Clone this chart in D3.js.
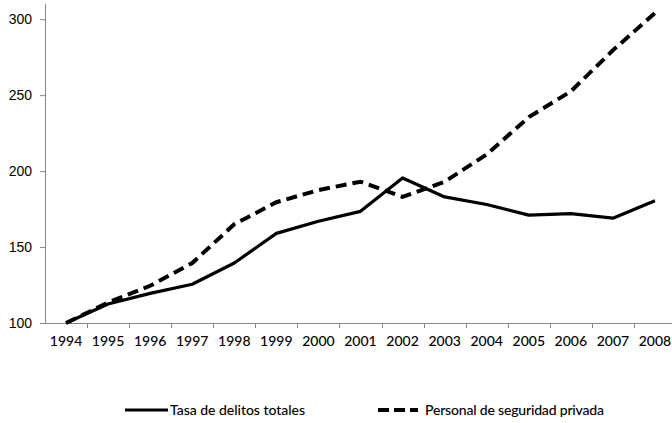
<!DOCTYPE html>
<html>
<head>
<meta charset="utf-8">
<script src="https://cdn.jsdelivr.net/npm/d3@7"></script>
<style>
  body { margin: 0; background: #fff; }
  svg { display: block; font-family: Lato, 'DejaVu Sans', sans-serif; }
</style>
</head>
<body>
<div id="chart"></div>
<script>
const years = ['1994', '1995', '1996', '1997', '1998', '1999', '2000', '2001',
  '2002', '2003', '2004', '2005', '2006', '2007', '2008'];
const delitos = [100, 112.5, 119.5, 125.5, 139.5, 159, 167, 173.5, 195.5, 183, 178, 171, 172, 169, 180.5];
const seguridad = [100, 113.5, 124.5, 139.5, 165, 179.5, 187.5, 193, 183, 193, 211, 235.5, 252.5, 279.5, 304];
const yTicks = [100, 150, 200, 250, 300];
const seriesNames = ['Tasa de delitos totales', 'Personal de seguridad privada'];

const style = {
  axis: { color: '#868686', width: 1 },
  line: { color: '#000', width: 3.2 },
  labels: { size: 14, color: '#000' },
};

const W = 672;
const H = 423;
const plot = { left: 45, right: 676, top: 4, bottom: 323 };

const svg = d3.select('#chart').append('svg')
  .attr('width', W)
  .attr('height', H);

const x = d3.scaleBand()
  .domain(years)
  .range([plot.left, plot.right]);

const y = d3.scaleLinear()
  .domain([100, 310])
  .range([plot.bottom, plot.top]);

// y axis
const yAxis = d3.axisLeft(y)
  .tickValues(yTicks)
  .tickSize(5)
  .tickPadding(8);

const gy = svg.append('g')
  .attr('transform', `translate(${plot.left},0)`)
  .call(yAxis);
gy.select('.domain').attr('stroke', style.axis.color).attr('d', `M0.5,${plot.top}V${plot.bottom}`);
gy.selectAll('line').attr('stroke', style.axis.color);
gy.selectAll('text')
  .attr('font-size', style.labels.size)
  .attr('font-weight', 500)
  .attr('fill', style.labels.color);

// x axis, ticks between categories
const gx = svg.append('g')
  .attr('transform', `translate(0,${plot.bottom})`);
gx.append('line')
  .attr('x1', plot.left - 5).attr('x2', W)
  .attr('y1', 0.5).attr('y2', 0.5)
  .attr('stroke', style.axis.color);
gx.selectAll('.tick')
  .data(years.slice(1))
  .enter().append('line')
  .attr('x1', (d) => Math.round(x(d)) + 0.5)
  .attr('x2', (d) => Math.round(x(d)) + 0.5)
  .attr('y1', 0).attr('y2', 5)
  .attr('stroke', style.axis.color);
gx.selectAll('.label')
  .data(years)
  .enter().append('text')
  .attr('x', (d) => x(d) + x.bandwidth() / 2)
  .attr('y', 23)
  .attr('text-anchor', 'middle')
  .attr('font-size', style.labels.size)
  .attr('font-weight', 500)
  .attr('fill', style.labels.color)
  .text((d) => d);

const line = d3.line()
  .x((d, i) => x(years[i]) + x.bandwidth() / 2)
  .y((d) => y(d));

svg.append('path')
  .attr('d', line(delitos))
  .attr('fill', 'none')
  .attr('stroke', style.line.color)
  .attr('stroke-width', style.line.width)
  .attr('stroke-linejoin', 'round');

svg.append('path')
  .attr('d', line(seguridad))
  .attr('fill', 'none')
  .attr('stroke', style.line.color)
  .attr('stroke-width', 4)
  .attr('stroke-dasharray', '11,6');

// legend
const legend = svg.append('g').attr('transform', 'translate(0,410)');
const items = [
  { name: seriesNames[0], x1: 125, x2: 168, dash: null, tx: 170, len: 135 },
  { name: seriesNames[1], x1: 378, x2: 418, dash: '11,5', tx: 425, len: 179 },
];
items.forEach((it) => {
  legend.append('line')
    .attr('x1', it.x1).attr('x2', it.x2)
    .attr('y1', 0).attr('y2', 0)
    .attr('stroke', '#000')
    .attr('stroke-width', it.dash ? 4 : 3)
    .attr('stroke-dasharray', it.dash);
  legend.append('text')
    .attr('x', it.tx)
    .attr('y', 5)
    .attr('font-size', 14)
    .attr('font-weight', 500)
    .attr('textLength', it.len)
    .attr('lengthAdjust', 'spacing')
    .text(it.name);
});
</script>
</body>
</html>
